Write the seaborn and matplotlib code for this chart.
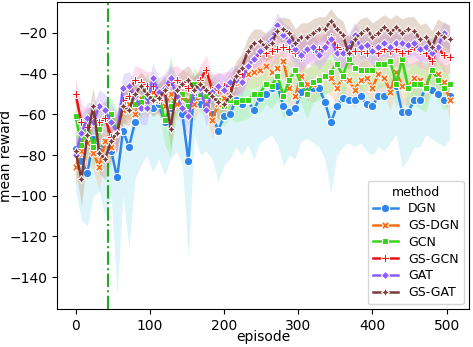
# --- IMPORTS ---
import numpy as np
import pandas as pd
import matplotlib
matplotlib.use("Agg")
import matplotlib.pyplot as plt
import seaborn as sns

# --- DATA ---
episodes = list(range(0, 505, 8))  # 64 evaluation points

methods = ["DGN", "GS-DGN", "GCN", "GS-GCN", "GAT", "GS-GAT"]

dgn = [-77, -83, -89, -72, -78, -73, -78, -91, -68, -76, -64, -57, -52, -57, -55, -64,
       -57, -53, -60, -83, -47, -55, -56, -60, -68, -61, -60, -53, -55, -53, -58, -52,
       -50, -47, -46, -56, -59, -57, -49, -46, -47, -47, -54, -64, -56, -52, -53, -53,
       -51, -55, -56, -51, -51, -48, -46, -59, -59, -53, -53, -47, -48, -50, -53, -51]
gs_dgn = [-86, -78, -74, -79, -86, -73, -76, -67, -58, -55, -60, -52, -55, -49, -53, -56,
          -50, -55, -52, -53, -55, -50, -52, -63, -55, -52, -47, -44, -42, -40, -39, -38,
          -36, -39, -37, -34, -47, -51, -41, -45, -45, -43, -41, -42, -47, -42, -43, -48,
          -43, -42, -47, -40, -42, -49, -39, -46, -47, -42, -43, -46, -39, -40, -44, -53]
gcn = [-61, -75, -65, -76, -67, -62, -60, -68, -55, -52, -55, -54, -48, -52, -50, -63,
       -56, -52, -50, -56, -45, -50, -51, -48, -53, -56, -53, -54, -53, -53, -50, -50,
       -45, -46, -41, -51, -43, -38, -45, -50, -44, -43, -41, -39, -35, -41, -33, -37,
       -38, -38, -38, -35, -35, -34, -45, -33, -47, -45, -45, -47, -38, -43, -47, -45]
gs_gcn = [-50, -64, -66, -62, -64, -62, -71, -69, -53, -51, -43, -44, -46, -46, -53, -48,
          -44, -43, -45, -47, -49, -43, -38, -48, -48, -46, -46, -44, -40, -36, -33, -30,
          -30, -29, -28, -27, -28, -30, -32, -28, -28, -28, -27, -22, -27, -29, -29, -29,
          -29, -30, -28, -30, -28, -29, -28, -30, -29, -27, -29, -30, -34, -27, -31, -32]
gat = [-80, -69, -62, -64, -56, -58, -64, -69, -47, -46, -51, -57, -57, -42, -49, -47,
       -42, -51, -57, -61, -48, -47, -58, -49, -46, -48, -44, -43, -44, -36, -33, -29,
       -26, -23, -16, -21, -24, -28, -31, -28, -27, -31, -27, -23, -30, -30, -27, -21,
       -27, -26, -29, -27, -25, -27, -25, -25, -26, -25, -28, -27, -30, -27, -20, -23]
gs_gat = [-78, -92, -70, -56, -79, -82, -73, -69, -56, -58, -50, -46, -50, -53, -52, -48,
          -67, -48, -45, -43, -48, -45, -48, -51, -54, -55, -51, -41, -37, -29, -25, -24,
          -27, -25, -19, -18, -20, -25, -22, -22, -20, -18, -18, -14, -18, -21, -30, -23,
          -20, -18, -22, -20, -17, -20, -17, -20, -18, -19, -23, -22, -27, -20, -22, -23]

# lower / upper edge of the DGN band (it hangs far below the mean)
dgn_low = [-98, -112, -115, -100, -98, -110, -100, -149, -100, -126, -92, -85, -80, -88, -82, -90,
           -82, -78, -85, -131, -70, -80, -78, -82, -93, -85, -82, -76, -80, -75, -82, -74,
           -72, -70, -75, -85, -80, -82, -73, -72, -74, -76, -82, -99, -80, -76, -74, -76,
           -74, -78, -80, -76, -78, -74, -70, -86, -82, -76, -76, -70, -72, -74, -76, -72]
dgn_high = [-70, -74, -78, -64, -70, -64, -70, -80, -60, -68, -57, -50, -46, -50, -49, -56,
            -50, -47, -53, -74, -42, -48, -50, -53, -60, -54, -53, -47, -49, -47, -51, -46,
            -44, -42, -40, -49, -52, -50, -43, -41, -42, -42, -48, -56, -50, -46, -47, -47,
            -45, -49, -50, -45, -45, -42, -40, -52, -52, -47, -47, -42, -42, -44, -47, -45]

# half widths of the other bands
gs_dgn_sp = [9, 10, 9, 9, 11, 9, 9, 8, 8, 7, 8, 7, 7, 7, 7, 8,
             7, 8, 7, 8, 8, 7, 8, 9, 8, 8, 7, 7, 7, 7, 8, 8,
             8, 8, 8, 8, 9, 9, 8, 8, 9, 8, 8, 9, 9, 8, 9, 9,
             9, 8, 9, 8, 9, 9, 8, 9, 9, 8, 9, 9, 8, 8, 9, 9]
gcn_sp = [9, 10, 9, 10, 9, 9, 8, 10, 8, 8, 9, 8, 8, 9, 8, 12,
          25, 9, 8, 10, 8, 9, 9, 8, 10, 10, 9, 10, 10, 9, 9, 9,
          10, 11, 12, 12, 10, 10, 10, 12, 10, 10, 9, 10, 10, 11, 10, 10,
          10, 10, 11, 12, 11, 10, 12, 10, 12, 10, 12, 12, 10, 10, 11, 10]
gs_gcn_sp = [8, 9, 9, 8, 9, 9, 9, 9, 8, 7, 7, 7, 7, 7, 8, 7,
             7, 7, 7, 7, 7, 7, 7, 8, 8, 7, 7, 7, 8, 8, 8, 8,
             8, 8, 7, 7, 8, 8, 8, 7, 8, 7, 7, 8, 8, 8, 8, 8,
             8, 8, 8, 8, 7, 8, 8, 8, 8, 8, 8, 8, 8, 7, 8, 8]
gat_sp = [8, 8, 8, 9, 8, 8, 9, 10, 7, 7, 7, 8, 8, 7, 7, 7,
          7, 8, 9, 9, 7, 7, 8, 7, 7, 7, 7, 7, 7, 7, 7, 6,
          6, 6, 6, 6, 7, 7, 7, 7, 6, 7, 7, 6, 7, 7, 7, 6,
          6, 6, 7, 6, 6, 6, 6, 6, 6, 6, 6, 6, 7, 6, 6, 6]
gs_gat_sp = [9, 13, 10, 9, 10, 10, 9, 9, 8, 8, 7, 7, 7, 8, 7, 7,
             10, 7, 7, 7, 7, 7, 7, 8, 8, 8, 8, 7, 7, 7, 7, 6,
             7, 7, 6, 6, 7, 7, 7, 7, 7, 6, 6, 6, 6, 7, 8, 7,
             7, 6, 7, 7, 6, 7, 6, 7, 6, 7, 7, 7, 8, 7, 7, 7]

line_colors = ["#2e86ea", "#ff6a13", "#3ad31a", "#ee1111", "#8b5cff", "#7b3a3a"]
band_colors = ["#9ee3ef", "#ffb98a", "#8ef08a", "#ff9fcc", "#c2a6ff", "#b8957a"]

# --- BUILD LONG TABLE ---
means = [dgn, gs_dgn, gcn, gs_gcn, gat, gs_gat]
frames = []
for m, vals in zip(methods, means):
    frames.append(pd.DataFrame({"episode": episodes, "mean reward": vals, "method": m}))
data = pd.concat(frames, ignore_index=True)

# --- PLOT ---
fig = plt.figure(figsize=(4.73, 3.47), dpi=100)
ax = fig.add_axes([0.1205, 0.1095, 0.871, 0.8845])

spreads = [None, gs_dgn_sp, gcn_sp, gs_gcn_sp, gat_sp, gs_gat_sp]
for i, (vals, sp) in enumerate(zip(means, spreads)):
    if sp is None:
        lo, hi = dgn_low, dgn_high
    else:
        lo = np.array(vals) - np.array(sp)
        hi = np.array(vals) + np.array(sp)
    ax.fill_between(episodes, lo, hi, color=band_colors[i], alpha=0.35, lw=0)

ax.axvline(44, color="#22aa22", ls="-.", lw=1.5, zorder=1.5)

sns.lineplot(data=data, x="episode", y="mean reward", hue="method", style="method",
             markers=True, dashes=False, palette=line_colors, hue_order=methods,
             style_order=methods, errorbar=None, ax=ax, markersize=6, lw=1.8)

ax.set_ylim(-155.7, -4.8)
ax.set_xlim(-25, 530)
ax.yaxis.set_label_coords(-0.108, 0.5)
ax.xaxis.set_label_coords(0.5, -0.07)
ax.legend(title="method", loc="lower right", fontsize=9, title_fontsize=9,
          labelspacing=0.3, borderaxespad=0.4)

fig.savefig("out.png", dpi=100)
